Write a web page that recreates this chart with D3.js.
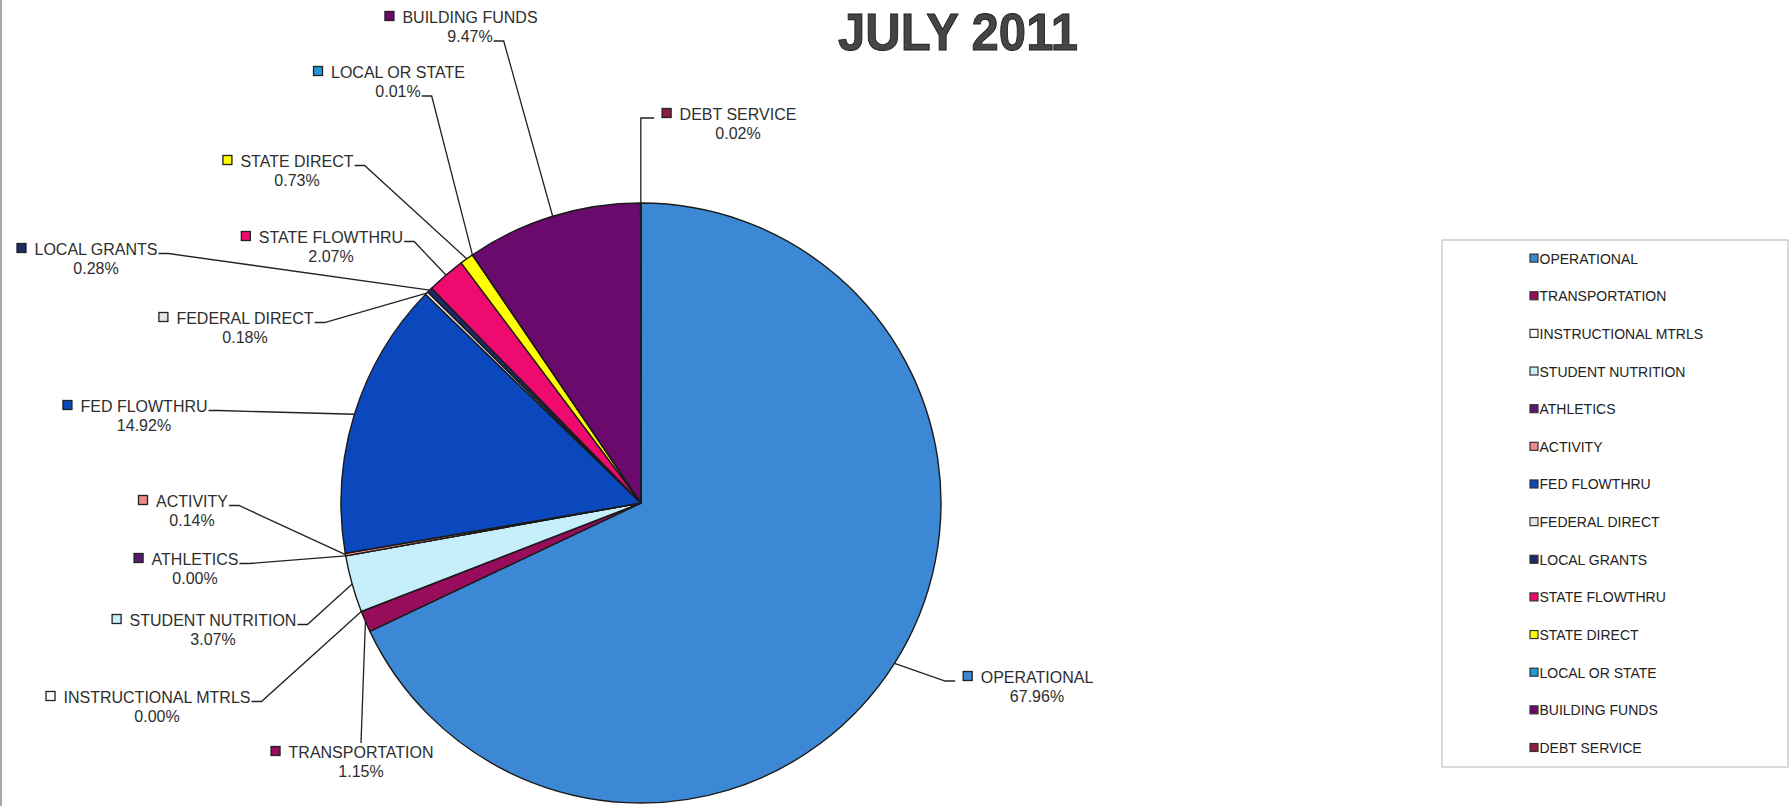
<!DOCTYPE html>
<html>
<head>
<meta charset="utf-8">
<script src="https://cdn.jsdelivr.net/npm/d3@7"></script>
<style>
  html, body { margin: 0; padding: 0; background: #fff; }
  svg { display: block; font-family: "Liberation Sans", Arial, Helvetica, sans-serif; }
</style>
</head>
<body>
<svg id="chart" width="1790" height="806"></svg>
<script>
// Fund categories, in the order the slices run clockwise from 12 o'clock
const categories = [
  "OPERATIONAL", "TRANSPORTATION", "INSTRUCTIONAL MTRLS", "STUDENT NUTRITION",
  "ATHLETICS", "ACTIVITY", "FED FLOWTHRU", "FEDERAL DIRECT", "LOCAL GRANTS",
  "STATE FLOWTHRU", "STATE DIRECT", "LOCAL OR STATE", "BUILDING FUNDS", "DEBT SERVICE"
];

// Share of the month's total, in percent
const shares = [67.96, 1.15, 0.00, 3.07, 0.00, 0.14, 14.92, 0.18, 0.28, 2.07, 0.73, 0.01, 9.47, 0.02];

// Slice fill per category
const palette = [
  "#3d88d5", "#970c5b", "#ffffff", "#c6effb", "#5a1870", "#f08a8a", "#0c48bd",
  "#e4e4ea", "#1d2c68", "#ef0a70", "#ffff00", "#1f9ad6", "#6a0a6c", "#8e1c3c"
];

const title = "JULY 2011";

// Where each data label sits: centre of the text block, name baseline,
// and which side of the block its leader line leaves from
const labelLayout = [
  { cx: 1037, y: 683, leader: "left" },
  { cx: 361,  y: 758, leader: "top" },
  { cx: 157,  y: 703, leader: "name" },
  { cx: 213,  y: 626, leader: "name" },
  { cx: 195,  y: 565, leader: "name" },
  { cx: 192,  y: 507, leader: "name" },
  { cx: 144,  y: 412, leader: "name" },
  { cx: 245,  y: 324, leader: "name" },
  { cx: 96,   y: 255, leader: "name" },
  { cx: 331,  y: 243, leader: "name" },
  { cx: 297,  y: 167, leader: "name" },
  { cx: 398,  y: 78,  leader: "pct" },
  { cx: 470,  y: 23,  leader: "pct" },
  { cx: 738,  y: 120, leader: "left" }
];

const data = categories.map((c, i) => ({ name: c, value: shares[i], color: palette[i] }));

const svg = d3.select("#chart");
const W = 1790, H = 806;
const cx = 641, cy = 503, R = 300;

svg.append("rect").attr("width", W).attr("height", H).attr("fill", "#fff");
// thin page edge on the left
svg.append("line").attr("x1", 1).attr("x2", 1).attr("y1", 0).attr("y2", H)
  .attr("stroke", "#a8a8a8").attr("stroke-width", 2);

// Title
svg.append("text")
  .attr("x", 958).attr("y", 50)
  .attr("text-anchor", "middle")
  .attr("font-size", 51).attr("font-weight", "bold")
  .attr("textLength", 240).attr("lengthAdjust", "spacingAndGlyphs")
  .attr("fill", "#454545").attr("stroke", "#1c1c1c").attr("stroke-width", 0.9)
  .text(title);

// Pie
const pie = d3.pie().sort(null).value(d => d.value);
const arcs = pie(data);
const arc = d3.arc().innerRadius(0).outerRadius(R);
const rim = d3.arc().innerRadius(R).outerRadius(R);

const gPie = svg.append("g").attr("transform", `translate(${cx},${cy})`);
gPie.selectAll("path")
  .data(arcs)
  .join("path")
  .attr("d", arc)
  .attr("fill", d => d.data.color)
  .attr("stroke", "#1a1a1a")
  .attr("stroke-width", 1.4)
  .attr("stroke-linejoin", "round");

// Data labels with leader lines
const fmt = v => v.toFixed(2) + "%";
const gLab = svg.append("g");
const lineH = 19, markerSize = 9, markerGap = 8.5, stub = 10;

arcs.forEach((a, i) => {
  const L = labelLayout[i];
  const g = gLab.append("g");
  const nameT = g.append("text")
    .attr("x", L.cx).attr("y", L.y)
    .attr("text-anchor", "middle")
    .attr("font-size", 16).attr("fill", "#2e2e2e")
    .text(a.data.name);
  const pctT = g.append("text")
    .attr("x", L.cx).attr("y", L.y + lineH)
    .attr("text-anchor", "middle")
    .attr("font-size", 16).attr("fill", "#2e2e2e")
    .text(fmt(a.data.value));
  const nw = nameT.node().getComputedTextLength();
  const pw = pctT.node().getComputedTextLength();
  const mx = L.cx - nw / 2 - markerGap - markerSize;
  g.append("rect")
    .attr("x", mx).attr("y", L.y - 11.5)
    .attr("width", markerSize).attr("height", markerSize)
    .attr("fill", a.data.color).attr("stroke", "#222").attr("stroke-width", 1.3);

  const [px, py] = rim.centroid(a);
  const end = [cx + px, cy + py];
  let pts;
  if (L.leader === "name") {
    const sx = L.cx + nw / 2 + 1, sy = L.y - 1.5;
    pts = [[sx, sy], [sx + stub, sy], end];
  } else if (L.leader === "pct") {
    const sx = L.cx + pw / 2 + 1, sy = L.y + lineH - 1;
    pts = [[sx, sy], [sx + stub, sy], end];
  } else if (L.leader === "left") {
    const sx = mx - 8, sy = L.y - 2;
    pts = (Math.abs(end[1] - sy) > 60)
      ? [[sx, sy], [end[0], sy], end]
      : [[sx, sy], [sx - stub, sy], end];
  } else {
    pts = [[L.cx, L.y - 15], end];
  }
  gLab.append("path")
    .attr("d", d3.line()(pts))
    .attr("fill", "none").attr("stroke", "#222").attr("stroke-width", 1.3);
});

// Legend
const legX = 1442, legY = 240, legW = 346, legH = 527;
const gLeg = svg.append("g");
gLeg.append("rect")
  .attr("x", legX).attr("y", legY).attr("width", legW).attr("height", legH)
  .attr("fill", "#fff").attr("stroke", "#b4b4b4").attr("stroke-width", 1);
const rowY = d3.scalePoint().domain(categories).range([258.6, 748]);
const items = gLeg.selectAll("g.item").data(data).join("g")
  .attr("class", "item")
  .attr("transform", d => `translate(1530,${rowY(d.name)})`);
items.append("rect")
  .attr("x", 0).attr("y", -4.5).attr("width", 8).attr("height", 8)
  .attr("fill", d => d.color).attr("stroke", "#333").attr("stroke-width", 1.2);
items.append("text")
  .attr("x", 9.5).attr("y", 5)
  .attr("font-size", 14).attr("fill", "#222")
  .text(d => d.name);
</script>
</body>
</html>
